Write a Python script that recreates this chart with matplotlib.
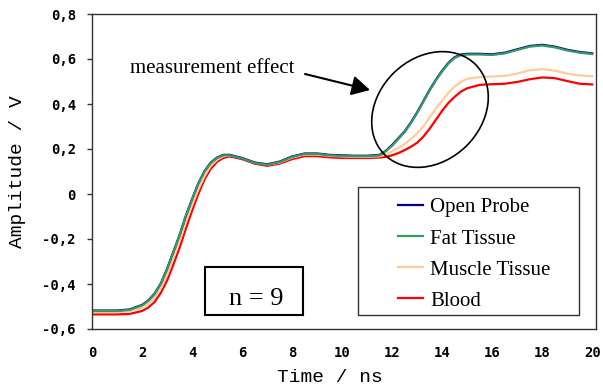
#!/usr/bin/env python3
"""Step response of the probe for different tissues (n = 9)."""

import matplotlib

matplotlib.use("Agg")

import matplotlib.pyplot as plt
from matplotlib.patches import Ellipse, Rectangle

# time axis in ns
time_ns = [
    0, 1, 1.5, 2, 2.25, 2.5, 2.75, 3, 3.25, 3.5, 3.75, 4, 4.25, 4.5, 4.75,
    5, 5.25, 5.5, 6, 6.5, 7, 7.5, 8, 8.5, 9, 9.5, 10, 10.5, 11, 11.5, 11.75,
    12, 12.25, 12.5, 12.75, 13, 13.25, 13.5, 13.75, 14, 14.25, 14.5, 14.75,
    15, 15.5, 16, 16.5, 17, 17.5, 18, 18.5, 19, 19.5, 20,
]

open_probe = [
    -0.518, -0.518, -0.513, -0.493, -0.473, -0.443, -0.398, -0.333, -0.258,
    -0.183, -0.098, -0.023, 0.047, 0.102, 0.140, 0.162, 0.174, 0.174, 0.160,
    0.140, 0.132, 0.144, 0.167, 0.180, 0.180, 0.174, 0.172, 0.170, 0.170,
    0.174, 0.192, 0.218, 0.248, 0.278, 0.318, 0.363, 0.413, 0.463, 0.508,
    0.548, 0.583, 0.608, 0.620, 0.623, 0.623, 0.621, 0.628, 0.643, 0.658,
    0.663, 0.655, 0.641, 0.631, 0.625,
]

fat_tissue = [
    -0.520, -0.520, -0.515, -0.495, -0.475, -0.445, -0.400, -0.335, -0.260,
    -0.185, -0.100, -0.025, 0.045, 0.100, 0.138, 0.160, 0.172, 0.172, 0.158,
    0.138, 0.130, 0.142, 0.165, 0.178, 0.178, 0.172, 0.170, 0.168, 0.168,
    0.172, 0.190, 0.215, 0.245, 0.275, 0.315, 0.360, 0.410, 0.460, 0.505,
    0.545, 0.580, 0.605, 0.617, 0.620, 0.620, 0.618, 0.625, 0.640, 0.655,
    0.660, 0.652, 0.638, 0.628, 0.622,
]

muscle_tissue = [
    -0.525, -0.525, -0.522, -0.505, -0.488, -0.460, -0.420, -0.360, -0.285,
    -0.210, -0.125, -0.050, 0.020, 0.080, 0.125, 0.152, 0.168, 0.172, 0.160,
    0.140, 0.130, 0.140, 0.162, 0.175, 0.175, 0.170, 0.167, 0.165, 0.165,
    0.168, 0.175, 0.190, 0.205, 0.222, 0.245, 0.270, 0.300, 0.340, 0.380,
    0.415, 0.450, 0.478, 0.498, 0.512, 0.520, 0.522, 0.525, 0.535, 0.550,
    0.555, 0.548, 0.535, 0.527, 0.523,
]

blood = [
    -0.535, -0.535, -0.533, -0.520, -0.505, -0.480, -0.440, -0.385, -0.315,
    -0.240, -0.155, -0.075, 0.000, 0.065, 0.112, 0.143, 0.160, 0.167, 0.155,
    0.135, 0.125, 0.135, 0.155, 0.168, 0.168, 0.163, 0.160, 0.160, 0.160,
    0.162, 0.165, 0.172, 0.182, 0.195, 0.210, 0.228, 0.255, 0.290, 0.330,
    0.370, 0.405, 0.432, 0.455, 0.470, 0.485, 0.488, 0.490, 0.498, 0.510,
    0.518, 0.515, 0.502, 0.490, 0.487,
]

series_labels = ["Open Probe", "Fat Tissue", "Muscle Tissue", "Blood"]
series_colors = ["#000080", "#339966", "#FFCC99", "#FF0000"]

x_ticks = [0, 2, 4, 6, 8, 10, 12, 14, 16, 18, 20]
y_ticks = [0.8, 0.6, 0.4, 0.2, 0.0, -0.2, -0.4, -0.6]
y_tick_labels = ["0,8", "0,6", "0,4", "0,2", "0", "-0,2", "-0,4", "-0,6"]

TICK_FONT = {"family": "DejaVu Sans Mono", "weight": "bold", "size": 10}
LABEL_FONT = {"family": "Liberation Mono", "size": 14}
SERIF = "Liberation Serif"
EDGE = "#333333"


def main() -> int:
    fig = plt.figure(figsize=(6.03, 3.89), dpi=100)
    ax = fig.add_axes([92 / 603, 60 / 389, 504 / 603, 315 / 389])

    values = [open_probe, fat_tissue, muscle_tissue, blood]
    lines = []
    for label, color, ys in zip(series_labels, series_colors, values):
        (line,) = ax.plot(time_ns, ys, color=color, linewidth=1.6, label=label)
        lines.append(line)
    # blood and muscle are drawn under the fat tissue curve in the original
    lines[3].set_zorder(2.1)
    lines[2].set_zorder(2.2)
    lines[0].set_zorder(2.3)
    lines[1].set_zorder(2.4)

    ax.set_xlim(0, 20.15)
    ax.set_ylim(-0.6, 0.8)
    ax.set_xticks(x_ticks)
    ax.set_xticklabels([str(t) for t in x_ticks], fontdict=TICK_FONT)
    ax.set_yticks(y_ticks)
    ax.set_yticklabels(y_tick_labels, fontdict=TICK_FONT)
    ax.tick_params(axis="x", length=0, pad=12)
    ax.tick_params(axis="y", direction="out", length=3.6, width=1, pad=8, color=EDGE)
    for spine in ax.spines.values():
        spine.set_color(EDGE)
        spine.set_linewidth(1)

    ax.set_xlabel("Time / ns", fontdict=LABEL_FONT, va="center")
    ax.set_ylabel("Amplitude / V", fontdict=LABEL_FONT, va="center")
    ax.xaxis.set_label_coords((330 - 92) / 504, (329 - 378) / 315)
    ax.yaxis.set_label_coords((18 - 92) / 504, 0.5)

    # legend frame drawn separately, entries placed inside it
    fig.patches.append(
        Rectangle((358, 389 - 315), 221, 128, transform=None, fill=False,
                  edgecolor=EDGE, linewidth=1)
    )
    fig.legend(
        handles=lines,
        loc="upper left",
        bbox_to_anchor=(3.88, 2.015),
        bbox_transform=fig.dpi_scale_trans,
        frameon=False,
        borderpad=0,
        prop={"family": SERIF, "size": 15},
        handlelength=1.2,
        handletextpad=0.34,
        labelspacing=0.55,
    )

    # "n = 9" box
    fig.patches.append(
        Rectangle((205, 389 - 315), 98, 48, transform=None, fill=False,
                  edgecolor="black", linewidth=1.5)
    )
    fig.text(256 / 603, (389 - 305) / 389, "n = 9", family=SERIF, size=19,
             ha="center", va="baseline")

    # measurement effect annotation
    fig.patches.append(
        Ellipse((4.30, 2.795), 1.28, 1.03, angle=44, transform=fig.dpi_scale_trans,
                fill=False, edgecolor="black", linewidth=1.2)
    )
    fig.text(130 / 603, (389 - 73) / 389, "measurement effect", family=SERIF,
             size=15, ha="left", va="baseline")
    ax.annotate(
        "",
        xy=(370, 389 - 90),
        xytext=(305, 389 - 74),
        xycoords="figure pixels",
        textcoords="figure pixels",
        arrowprops={
            "arrowstyle": "-|>,head_length=0.55,head_width=0.3",
            "mutation_scale": 20,
            "color": "black",
            "linewidth": 1.5,
            "shrinkA": 0,
            "shrinkB": 0,
        },
    )

    fig.savefig("out.png", dpi=100)
    plt.close(fig)
    return 0


if __name__ == "__main__":
    raise SystemExit(main())
